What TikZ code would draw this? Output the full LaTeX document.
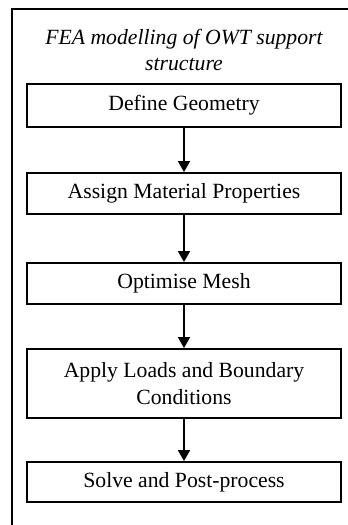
\documentclass[tikz,border=0pt]{standalone}
\usepackage{fontspec}
\setmainfont{Liberation Serif}
\usetikzlibrary{arrows.meta}
\begin{document}
\begin{tikzpicture}[x=1pt,y=-1pt,
  stepbox/.style={draw, line width=1.8pt, minimum width=314pt, inner sep=0pt, align=center,
    font=\fontsize{21.7}{27}\selectfont},
  arr/.style={-{Triangle[width=12pt,length=11pt]}, line width=1.6pt}]
\useasboundingbox (0,0) rectangle (348,525);
\draw[line width=2pt] (12,540) -- (12,9) -- (360,9);
\node[font=\itshape\fontsize{21.7}{26}\selectfont, align=center] (title) at (184,50) {FEA modelling of OWT support\\structure};
\node[stepbox, minimum height=43pt] (b1) at (184,105.5) {Define Geometry};
\node[stepbox, minimum height=41pt] (b2) at (184,193.5) {Assign Material Properties};
\node[stepbox, minimum height=41pt] (b3) at (184,283.5) {Optimise Mesh};
\node[stepbox, minimum height=69pt] (b4) at (184,383.5) {Apply Loads and Boundary\\Conditions};
\node[stepbox, minimum height=40pt] (b5) at (184,482) {Solve and Post-process};
\draw[arr] (b1) -- (b2);
\draw[arr] (b2) -- (b3);
\draw[arr] (b3) -- (b4);
\draw[arr] (b4) -- (b5);
\end{tikzpicture}
\end{document}
